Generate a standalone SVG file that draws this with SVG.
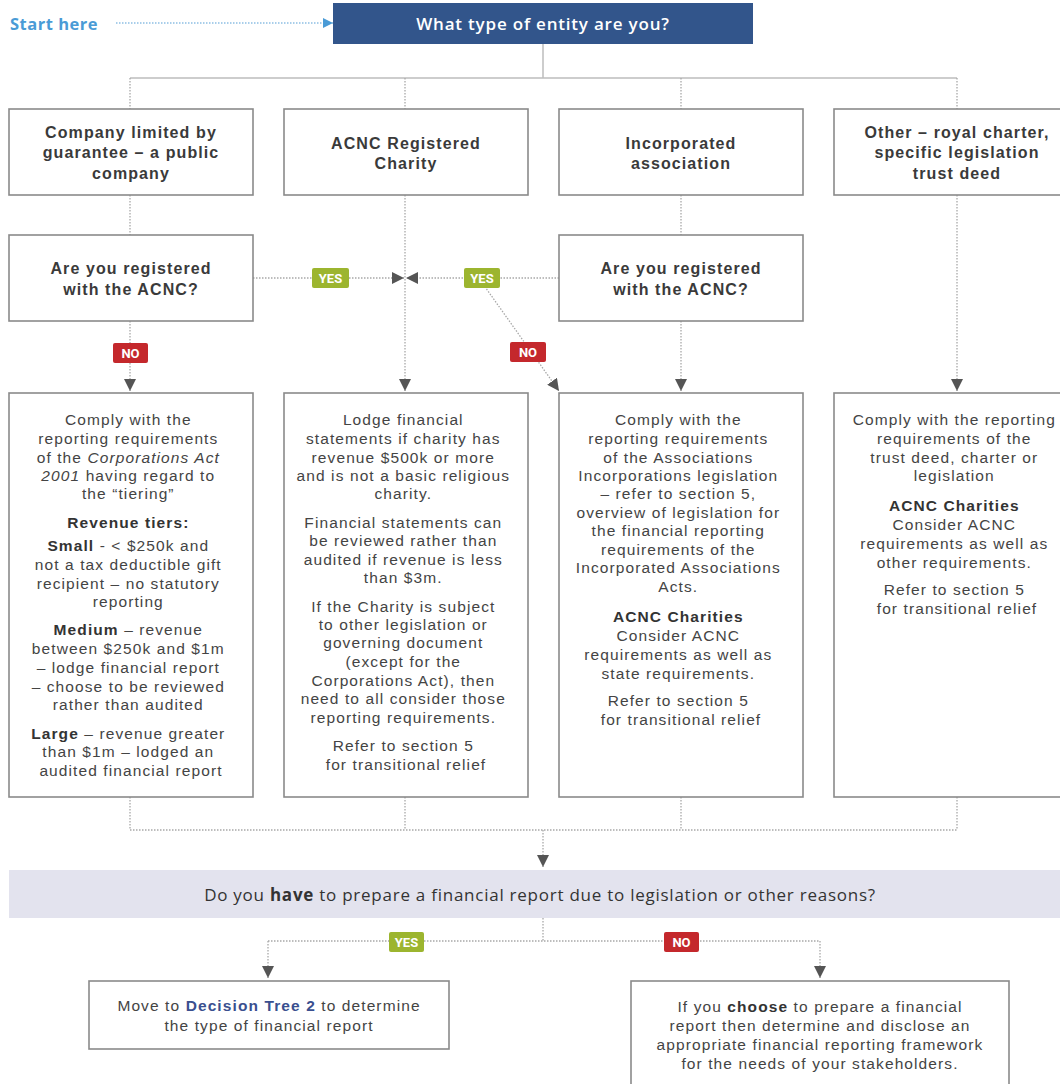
<svg xmlns="http://www.w3.org/2000/svg" width="1060" height="1084" viewBox="0 0 1060 1084">
<defs>
<style>
.box{fill:#fff;stroke:#8a8a8a;stroke-width:1.6}
.head{font-family:"Liberation Sans",Arial,sans-serif;font-weight:700;font-size:16px;letter-spacing:1.1px;fill:#3a3a3a;text-anchor:middle;dominant-baseline:central}
.body{font-family:"Liberation Sans",Arial,sans-serif;font-size:15.5px;letter-spacing:1.1px;fill:#444;text-anchor:middle;dominant-baseline:central}
.b{font-weight:700;fill:#333}
.i{font-style:italic}
.conn{fill:none;stroke:#a8a8a8;stroke-width:1.3;stroke-dasharray:1.5 1.5}
.solid{fill:none;stroke:#bdbdbd;stroke-width:1.5}
.lbl{font-family:Roboto,"Liberation Sans",sans-serif;font-weight:700;font-size:13px;fill:#fff;text-anchor:middle;dominant-baseline:central}
.yes{fill:#9cb52f}
.no{fill:#c4282c}
</style>
<marker id="ah" viewBox="0 0 10 10" refX="10" refY="5" markerWidth="12" markerHeight="12" markerUnits="userSpaceOnUse" orient="auto">
<path d="M0,0 L10,5 L0,10 z" fill="#555"/>
</marker>
<marker id="ahb" viewBox="0 0 10 10" refX="10" refY="5" markerWidth="10" markerHeight="12" markerUnits="userSpaceOnUse" orient="auto">
<path d="M0,0 L10,5 L0,10 z" fill="#4a9bd6"/>
</marker>
</defs>
<rect width="1060" height="1084" fill="#fff"/>

<g id="connectors">
<line class="conn" x1="116" y1="23" x2="333" y2="23" style="stroke:#8dbfe4" marker-end="url(#ahb)"/>
<line class="solid" x1="543" y1="44" x2="543" y2="78"/>
<line class="solid" x1="130" y1="78" x2="957" y2="78"/>
<line class="conn" x1="130" y1="78" x2="130" y2="109"/>
<line class="conn" x1="405" y1="78" x2="405" y2="109"/>
<line class="conn" x1="681" y1="78" x2="681" y2="109"/>
<line class="conn" x1="957" y1="78" x2="957" y2="109"/>
<line class="conn" x1="130" y1="195" x2="130" y2="235"/>
<line class="conn" x1="130" y1="321" x2="130" y2="391" marker-end="url(#ah)"/>
<line class="conn" x1="405" y1="195" x2="405" y2="391" marker-end="url(#ah)"/>
<line class="conn" x1="253" y1="278" x2="404" y2="278" marker-end="url(#ah)"/>
<line class="conn" x1="559" y1="278" x2="406" y2="278" marker-end="url(#ah)"/>
<line class="conn" x1="483" y1="284" x2="559" y2="391" marker-end="url(#ah)"/>
<line class="conn" x1="681" y1="195" x2="681" y2="235"/>
<line class="conn" x1="681" y1="321" x2="681" y2="391" marker-end="url(#ah)"/>
<line class="conn" x1="957" y1="195" x2="957" y2="391" marker-end="url(#ah)"/>
<line class="conn" x1="130" y1="797" x2="130" y2="830"/>
<line class="conn" x1="405" y1="797" x2="405" y2="830"/>
<line class="conn" x1="681" y1="797" x2="681" y2="830"/>
<line class="conn" x1="957" y1="797" x2="957" y2="830"/>
<line class="conn" x1="130" y1="830" x2="957" y2="830"/>
<line class="conn" x1="543" y1="830" x2="543" y2="867" marker-end="url(#ah)"/>
<line class="conn" x1="543" y1="918" x2="543" y2="941"/>
<line class="conn" x1="268" y1="941" x2="820" y2="941"/>
<line class="conn" x1="268" y1="941" x2="268" y2="978" marker-end="url(#ah)"/>
<line class="conn" x1="820" y1="941" x2="820" y2="978" marker-end="url(#ah)"/>
<rect class="yes" x="312" y="268" width="37" height="20" rx="2"/>
<text class="lbl" x="330.5" y="278">YES</text>
<rect class="yes" x="464" y="268" width="36" height="20" rx="2"/>
<text class="lbl" x="482" y="278">YES</text>
<rect class="no" x="113" y="343" width="35" height="20" rx="2"/>
<text class="lbl" x="130.5" y="353">NO</text>
<rect class="no" x="510" y="342" width="36" height="20" rx="2"/>
<text class="lbl" x="528" y="352">NO</text>
<rect class="yes" x="389" y="932" width="35" height="20" rx="2"/>
<text class="lbl" x="406.5" y="942">YES</text>
<rect class="no" x="664" y="932" width="35" height="20" rx="2"/>
<text class="lbl" x="681.5" y="942">NO</text>
</g>

<g id="start">
<text x="10" y="23" font-family="Open Sans, Liberation Sans, sans-serif" font-weight="700" font-size="16.5" letter-spacing="0.5" fill="#4a9bd6" dominant-baseline="central">Start here</text>
</g>

<g id="title">
<rect x="333" y="3" width="420" height="41" fill="#32558b"/>
<text x="543" y="23" font-family="Open Sans, Liberation Sans, sans-serif" font-weight="600" font-size="17" letter-spacing="0.8" fill="#fff" text-anchor="middle" dominant-baseline="central">What type of entity are you?</text>
</g>

<g id="n-company">
<rect class="box" x="9" y="109" width="244" height="86"/>
<text class="head"><tspan x="131" y="132">Company limited by</tspan><tspan x="131" y="152">guarantee – a public</tspan><tspan x="131" y="173">company</tspan></text>
</g>
<g id="n-charity">
<rect class="box" x="284" y="109" width="244" height="86"/>
<text class="head"><tspan x="406" y="143">ACNC Registered</tspan><tspan x="406" y="163">Charity</tspan></text>
</g>
<g id="n-incassoc">
<rect class="box" x="559" y="109" width="244" height="86"/>
<text class="head"><tspan x="681" y="143">Incorporated</tspan><tspan x="681" y="163">association</tspan></text>
</g>
<g id="n-other">
<rect class="box" x="834" y="109" width="246" height="86"/>
<text class="head"><tspan x="957" y="132">Other – royal charter,</tspan><tspan x="957" y="152">specific legislation</tspan><tspan x="957" y="173">trust deed</tspan></text>
</g>

<g id="q-company">
<rect class="box" x="9" y="235" width="244" height="86"/>
<text class="head"><tspan x="131" y="268">Are you registered</tspan><tspan x="131" y="289">with the ACNC?</tspan></text>
</g>
<g id="q-incassoc">
<rect class="box" x="559" y="235" width="244" height="86"/>
<text class="head"><tspan x="681" y="268">Are you registered</tspan><tspan x="681" y="289">with the ACNC?</tspan></text>
</g>

<g id="r-company">
<rect class="box" x="9" y="393" width="244" height="404"/>
<text class="body">
<tspan x="131" y="419">Comply with the</tspan>
<tspan x="131" y="438">reporting requirements</tspan>
<tspan x="131" y="457">of the <tspan class="i">Corporations Act</tspan></tspan>
<tspan x="131" y="475"><tspan class="i">2001</tspan> having regard to</tspan>
<tspan x="131" y="493">the “tiering”</tspan>
<tspan x="131" y="522" class="b">Revenue tiers:</tspan>
<tspan x="131" y="545"><tspan class="b">Small</tspan> - &lt; $250k and</tspan>
<tspan x="131" y="564">not a tax deductible gift</tspan>
<tspan x="131" y="583">recipient – no statutory</tspan>
<tspan x="131" y="601">reporting</tspan>
<tspan x="131" y="629"><tspan class="b">Medium</tspan> – revenue</tspan>
<tspan x="131" y="648">between $250k and $1m</tspan>
<tspan x="131" y="667">– lodge financial report</tspan>
<tspan x="131" y="686">– choose to be reviewed</tspan>
<tspan x="131" y="704">rather than audited</tspan>
<tspan x="131" y="733"><tspan class="b">Large</tspan> – revenue greater</tspan>
<tspan x="131" y="751">than $1m – lodged an</tspan>
<tspan x="131" y="770">audited financial report</tspan>
</text>
</g>

<g id="r-charity">
<rect class="box" x="284" y="393" width="244" height="404"/>
<text class="body">
<tspan x="406" y="419">Lodge financial</tspan>
<tspan x="406" y="438">statements if charity has</tspan>
<tspan x="406" y="457">revenue $500k or more</tspan>
<tspan x="406" y="475">and is not a basic religious</tspan>
<tspan x="406" y="493">charity.</tspan>
<tspan x="406" y="522">Financial statements can</tspan>
<tspan x="406" y="540">be reviewed rather than</tspan>
<tspan x="406" y="559">audited if revenue is less</tspan>
<tspan x="406" y="577">than $3m.</tspan>
<tspan x="406" y="606">If the Charity is subject</tspan>
<tspan x="406" y="624">to other legislation or</tspan>
<tspan x="406" y="642">governing document</tspan>
<tspan x="406" y="661">(except for the</tspan>
<tspan x="406" y="680">Corporations Act), then</tspan>
<tspan x="406" y="698">need to all consider those</tspan>
<tspan x="406" y="717">reporting requirements.</tspan>
<tspan x="406" y="745">Refer to section 5</tspan>
<tspan x="406" y="764">for transitional relief</tspan>
</text>
</g>

<g id="r-incassoc">
<rect class="box" x="559" y="393" width="244" height="404"/>
<text class="body">
<tspan x="681" y="419">Comply with the</tspan>
<tspan x="681" y="438">reporting requirements</tspan>
<tspan x="681" y="457">of the Associations</tspan>
<tspan x="681" y="475">Incorporations legislation</tspan>
<tspan x="681" y="493">– refer to section 5,</tspan>
<tspan x="681" y="512">overview of legislation for</tspan>
<tspan x="681" y="530">the financial reporting</tspan>
<tspan x="681" y="549">requirements of the</tspan>
<tspan x="681" y="567">Incorporated Associations</tspan>
<tspan x="681" y="586">Acts.</tspan>
<tspan x="681" y="616" class="b">ACNC Charities</tspan>
<tspan x="681" y="635">Consider ACNC</tspan>
<tspan x="681" y="654">requirements as well as</tspan>
<tspan x="681" y="673">state requirements.</tspan>
<tspan x="681" y="700">Refer to section 5</tspan>
<tspan x="681" y="719">for transitional relief</tspan>
</text>
</g>

<g id="r-other">
<rect class="box" x="834" y="393" width="246" height="404"/>
<text class="body">
<tspan x="957" y="419">Comply with the reporting</tspan>
<tspan x="957" y="438">requirements of the</tspan>
<tspan x="957" y="457">trust deed, charter or</tspan>
<tspan x="957" y="475">legislation</tspan>
<tspan x="957" y="505" class="b">ACNC Charities</tspan>
<tspan x="957" y="524">Consider ACNC</tspan>
<tspan x="957" y="543">requirements as well as</tspan>
<tspan x="957" y="562">other requirements.</tspan>
<tspan x="957" y="589">Refer to section 5</tspan>
<tspan x="957" y="608">for transitional relief</tspan>
</text>
</g>

<g id="q-report">
<rect x="9" y="870" width="1060" height="48" fill="#e3e3ee"/>
<text x="540" y="894" font-family="Open Sans, Liberation Sans, sans-serif" font-size="17" letter-spacing="0.75" fill="#333" text-anchor="middle" dominant-baseline="central">Do you <tspan font-weight="700">have</tspan> to prepare a financial report due to legislation or other reasons?</text>
</g>

<g id="yes-result">
<rect class="box" x="89" y="981" width="360" height="68"/>
<text class="body"><tspan x="269" y="1005">Move to <tspan class="b" style="fill:#3a4f8f">Decision Tree 2</tspan> to determine</tspan><tspan x="269" y="1025">the type of financial report</tspan></text>
</g>

<g id="no-result">
<rect class="box" x="631" y="981" width="378" height="110"/>
<text class="body"><tspan x="820" y="1006">If you <tspan class="b">choose</tspan> to prepare a financial</tspan><tspan x="820" y="1025">report then determine and disclose an</tspan><tspan x="820" y="1044">appropriate financial reporting framework</tspan><tspan x="820" y="1063">for the needs of your stakeholders.</tspan></text>
</g>
</svg>
